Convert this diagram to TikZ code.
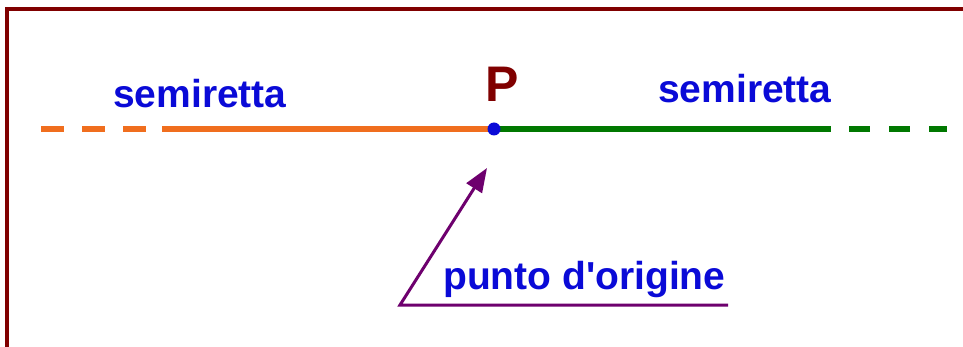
\documentclass[tikz,border=0pt]{standalone}
\usepackage{fontspec}
\setmainfont{Liberation Sans}
\usetikzlibrary{arrows.meta}
\definecolor{framered}{RGB}{128,0,0}
\definecolor{rayorange}{RGB}{240,110,30}
\definecolor{raygreen}{RGB}{0,120,0}
\definecolor{labelblue}{RGB}{10,10,215}
\definecolor{arrowpurple}{RGB}{110,0,110}
\tikzset{
  label/.style={text=labelblue, font=\bfseries\fontsize{39}{39}\selectfont, inner sep=0pt, anchor=base west},
  ray/.style={line width=5.5pt},
}
\begin{document}
\begin{tikzpicture}[x=1pt, y=-1pt]
    \useasboundingbox[fill=white] (0,0) rectangle (963,347);
    % Frame
    \draw[framered, line width=4pt] (6.5,347) -- (6.5,9.5) -- (963,9.5);

    % Points on the line
    \coordinate (leftend) at (41,129);
    \coordinate (leftsolid) at (162,129);
    \coordinate (P) at (494,129);
    \coordinate (rightsolid) at (831,129);
    \coordinate (rightdash) at (849,129);
    \coordinate (rightend) at (947,129);

    % Half-lines
    \draw[ray, rayorange, dash pattern=on 23pt off 18pt] (leftend) -- (leftsolid);
    \draw[ray, rayorange] (leftsolid) -- (P);
    \draw[ray, raygreen] (P) -- (rightsolid);
    \draw[ray, raygreen, dash pattern=on 21pt off 19pt] (rightdash) -- (rightend);
    \fill[labelblue] (P) circle (6.5pt);

    % Labels
    \node[label] (leftlabel) at (113,108) {semiretta};
    \node[label] (rightlabel) at (658,103) {semiretta};
    \node[text=framered, font=\bfseries\fontsize{50}{50}\selectfont, inner sep=0pt, anchor=base] (Plabel) at (502,102) {P};
    \node[label] (origin) at (443,289) {punto d\textquotesingle origine};

    % Pointer to the origin
    \coordinate (tip) at (487,168);
    \coordinate (corner) at (400,305);
    \coordinate (underend) at (728,305);
    \draw[arrowpurple, line width=3pt, -{Triangle[length=24pt, width=18pt]}] (underend) -- (corner) -- (tip);
\end{tikzpicture}
\end{document}
